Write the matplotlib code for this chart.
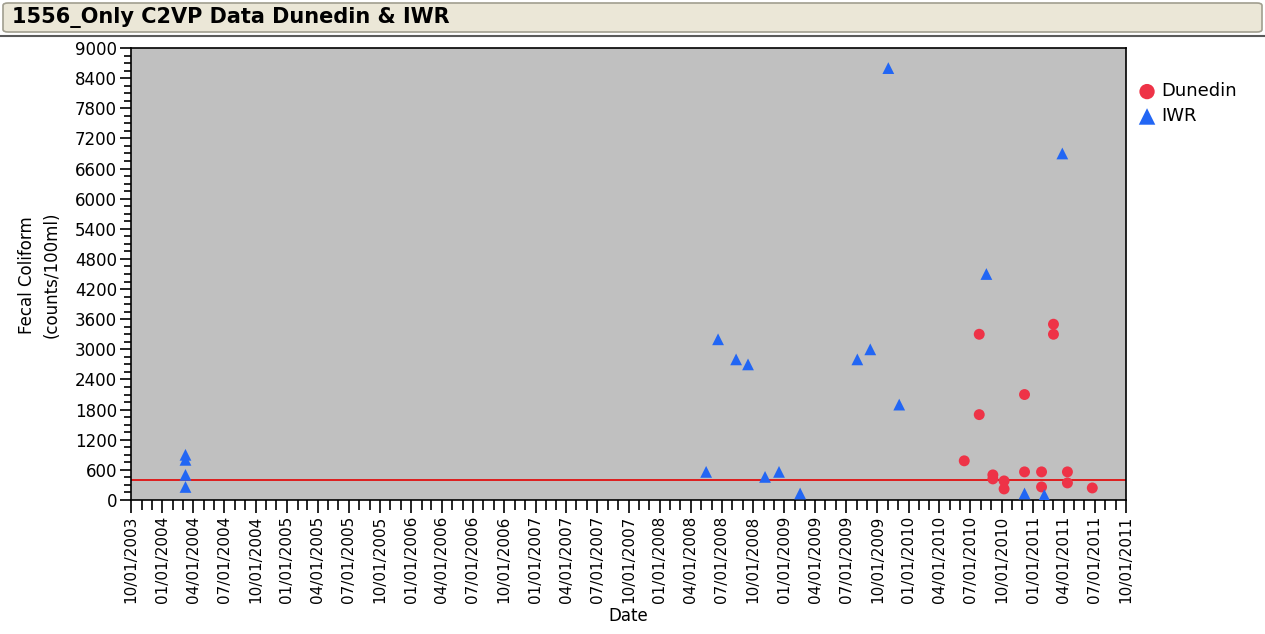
import matplotlib
matplotlib.use("Agg")
import matplotlib.pyplot as plt
import matplotlib.dates as mdates
from matplotlib.patches import FancyBboxPatch
from matplotlib.ticker import MultipleLocator
from matplotlib.lines import Line2D
import pandas as pd

plt.rcParams['font.family'] = ['DejaVu Sans']

title = "1556_Only C2VP Data Dunedin & IWR"

# Sample results (fecal coliform, counts/100ml)
dunedin_dates = ["2010-06-13", "2010-07-27", "2010-07-27", "2010-09-05", "2010-09-05",
                 "2010-10-08", "2010-10-08", "2010-12-07", "2010-12-07", "2011-01-26",
                 "2011-01-26", "2011-03-02", "2011-03-02", "2011-04-12", "2011-04-12",
                 "2011-06-24"]
dunedin_values = [780, 3300, 1700, 500, 420, 380, 220, 2100, 560, 560,
                  260, 3500, 3300, 560, 340, 240]

iwr_dates = ["2004-03-09", "2004-03-09", "2004-03-09", "2004-03-09", "2008-05-16",
             "2008-06-20", "2008-08-12", "2008-09-16", "2008-11-05", "2008-12-16",
             "2009-02-16", "2009-08-03", "2009-09-10", "2009-11-02", "2009-12-04",
             "2010-08-17", "2010-12-07", "2011-02-03", "2011-03-28"]
iwr_values = [900, 800, 500, 260, 560, 3200, 2800, 2700, 460, 560,
              130, 2800, 3000, 8600, 1900, 4500, 130, 100, 6900]

standard_limit = 400

fig = plt.figure(figsize=(12.65, 6.34), dpi=100)
W, H = 1265, 634

# Window-style header bar
fig.patches.append(FancyBboxPatch((3 / W, 1 - 32 / H), 1259 / W, 29 / H,
                                  boxstyle="round,pad=0,rounding_size=0.004",
                                  transform=fig.transFigure, facecolor="#ebe7d7",
                                  edgecolor="#a19e8f", linewidth=1.2))
fig.lines.append(Line2D([0, 1], [1 - 35.5 / H, 1 - 35.5 / H], transform=fig.transFigure,
                        color="#5a5a5a", linewidth=1.5))
fig.text(12 / W, 1 - 18 / H, title, fontsize=15, fontweight="bold",
         va="center", ha="left")

ax = fig.add_axes([131 / W, 134 / H, 995 / W, 452 / H])
ax.set_facecolor("#c0c0c0")

d_dates = pd.to_datetime(dunedin_dates)
i_dates = pd.to_datetime(iwr_dates)

ax.scatter(d_dates, dunedin_values, s=62, marker="o", color="#ee3347",
           edgecolors="none", label="Dunedin", zorder=3)
ax.scatter(i_dates, iwr_values, s=72, marker="^", color="#2266f4",
           edgecolors="none", label="IWR", zorder=3)
ax.axhline(standard_limit, color="#e01010", linewidth=1.3, zorder=2)

ax.set_xlim(pd.Timestamp("2003-10-01"), pd.Timestamp("2011-10-01"))
ax.set_ylim(0, 9000)

ax.xaxis.set_major_locator(mdates.MonthLocator(bymonth=[1, 4, 7, 10], bymonthday=1))
ax.xaxis.set_minor_locator(mdates.MonthLocator(bymonthday=1))
ax.xaxis.set_major_formatter(mdates.DateFormatter("%m/%d/%Y"))
ax.yaxis.set_major_locator(MultipleLocator(600))
ax.yaxis.set_minor_locator(MultipleLocator(150))

ax.tick_params(axis="x", which="major", length=9, width=1.2, labelsize=11,
               labelrotation=90, pad=2)
ax.tick_params(axis="x", which="minor", length=7, width=1.2)
ax.tick_params(axis="y", which="major", length=8, width=1.2, labelsize=12, pad=2)
ax.tick_params(axis="y", which="minor", length=5, width=1.2)
for sp in ax.spines.values():
    sp.set_color("black")
    sp.set_linewidth(1.2)

ax.set_xlabel("Date", fontsize=12, labelpad=3)
fig.text(39 / W, 1 - 275 / H, "Fecal Coliform\n(counts/100ml)", rotation=90,
         fontsize=12, ha="center", va="center", linespacing=1.45)

ax.legend(loc="upper left", bbox_to_anchor=(1.003, 0.94), frameon=False,
          fontsize=13, handletextpad=0.2, labelspacing=0.38, borderaxespad=0,
          handlelength=1.2, markerscale=1.4)

fig.savefig("out.png", dpi=100)
